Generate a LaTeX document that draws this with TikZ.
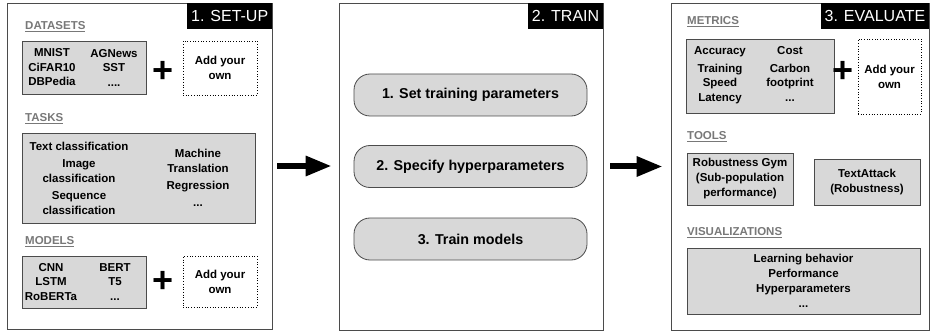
\documentclass[tikz,border=0pt]{standalone}
\usepackage{fontspec}
\setmainfont{Liberation Sans}
\usetikzlibrary{arrows.meta}

\definecolor{boxgray}{RGB}{216,216,216}
\definecolor{linegray}{RGB}{75,75,75}
\definecolor{headgray}{RGB}{120,120,120}

\tikzset{
	panel/.style={draw=linegray, line width=0.8pt, inner sep=0pt},
	title/.style={fill=black, text=white, anchor=north east, minimum height=26pt, inner xsep=4pt, inner ysep=0pt, font=\fontsize{16}{16}\selectfont},
	heading/.style={anchor=base west, inner sep=0pt, text=headgray, font=\fontsize{11.5}{14}\selectfont\bfseries},
	graybox/.style={draw=linegray, fill=boxgray, line width=0.8pt, inner sep=0pt, align=center, font=\fontsize{11.5}{15}\selectfont\bfseries},
	ownbox/.style={draw, dotted, line width=0.7pt, inner sep=0pt, align=center, font=\fontsize{11.5}{15}\selectfont\bfseries},
	column/.style={inner sep=0pt, align=center, font=\fontsize{11.5}{14.5}\selectfont\bfseries},
	plus/.style={inner sep=0pt, font=\fontsize{36}{36}\selectfont\bfseries},
	stepbox/.style={draw=linegray, fill=boxgray, line width=0.8pt, rounded corners=16pt, minimum width=233pt, minimum height=42pt, font=\fontsize{14.3}{17}\selectfont\bfseries},
	flow/.style={line width=6pt, -{Triangle[length=26pt, width=19pt]}}
}

\begin{document}
\begin{tikzpicture}[x=1pt, y=-1pt]
	\useasboundingbox (0,0) rectangle (931,331);
	% set-up
	\node[panel, minimum width=265pt, minimum height=326pt] (setup) at (139.5,166) {};
	\node[title] (setuptitle) at (setup.north east) {1. SET-UP};
	\node[heading] (datasets) at (25,29.3) {\underline{DATASETS}};
	\node[graybox, minimum width=124pt, minimum height=53pt] (dsbox) at (84,67.5) {};
	\node[column] (dsleft) at (52,67.5) {MNIST\\CiFAR10\\DBPedia};
	\node[column] (dsright) at (114,67.5) {AGNews\\SST\\....};
	\node[plus] (dsplus) at (163,72) {+};
	\node[ownbox, minimum width=74pt, minimum height=54pt] (dsown) at (220,68) {Add your\\own};
	\node[heading] (tasks) at (25,121.2) {\underline{TASKS}};
	\node[graybox, minimum width=233pt, minimum height=90pt] (taskbox) at (138.5,178) {};
	\node[column, font=\fontsize{11.5}{15}\selectfont\bfseries] (taskleft) at (79,178) {Text classification\\[2pt]Image\\classification\\[2pt]Sequence\\classification};
	\node[column, font=\fontsize{11.5}{15}\selectfont\bfseries] (taskright) at (198,177.4) {Machine\\Translation\\[2pt]Regression\\[2pt]...};
	\node[heading] (models) at (25,244.2) {\underline{MODELS}};
	\node[graybox, minimum width=124pt, minimum height=52pt] (modelbox) at (84,282) {};
	\node[column] (modelleft) at (51,282) {CNN\\LSTM\\RoBERTa};
	\node[column] (modelright) at (115,282) {BERT\\T5\\...};
	\node[plus] (modelplus) at (163,282) {+};
	\node[ownbox, minimum width=74pt, minimum height=51pt] (modelown) at (220,281.5) {Add your\\own};
	% train
	\node[panel, minimum width=264pt, minimum height=327pt] (train) at (471,166.5) {};
	\node[title] (traintitle) at (train.north east) {2. TRAIN};
	\node[stepbox] (setparams) at (470.5,95) {1. Set training parameters};
	\node[stepbox] (hyperparams) at (470.5,166.5) {2. Specify hyperparameters};
	\node[stepbox] (trainmodels) at (470.5,239) {3. Train models};
	% evaluate
	\node[panel, minimum width=258pt, minimum height=327pt] (evaluate) at (800,166.5) {};
	\node[title] (evaltitle) at (evaluate.north east) {3. EVALUATE};
	\node[heading] (metrics) at (687,24.2) {\underline{METRICS}};
	\node[graybox, minimum width=148pt, minimum height=74pt] (metricbox) at (760,76) {};
	\node[column, font=\fontsize{11.5}{14}\selectfont\bfseries] (metricleft) at (720,75.5) {Accuracy\\[4pt]Training\\Speed\\[1pt]Latency};
	\node[column, font=\fontsize{11.5}{14}\selectfont\bfseries] (metricright) at (790,74.4) {Cost\\[4pt]Carbon\\footprint\\[1pt]...};
	\node[plus] (metricplus) at (843,72) {+};
	\node[ownbox, minimum width=63pt, minimum height=75pt] (metricown) at (889.5,76.5) {Add your\\own};
	\node[heading] (tools) at (687,139.2) {\underline{TOOLS}};
	\node[graybox, minimum width=106pt, minimum height=52pt] (robgym) at (740,179) {Robustness Gym\\(Sub-population\\performance)};
	\node[graybox, minimum width=106pt, minimum height=46pt] (textattack) at (867,182) {TextAttack\\(Robustness)};
	\node[heading] (visual) at (687,235.2) {\underline{VISUALIZATIONS}};
	\node[graybox, minimum width=233pt, minimum height=66pt] (visbox) at (803.5,281) {Learning behavior\\Performance\\Hyperparameters\\...};
	% arrows
	\draw[flow, shorten <=5pt, shorten >=7pt] (setup.east) -- (setup.east -| train.west);
	\draw[flow, shorten <=7pt, shorten >=8pt] (train.east) -- (train.east -| evaluate.west);
\end{tikzpicture}
\end{document}
